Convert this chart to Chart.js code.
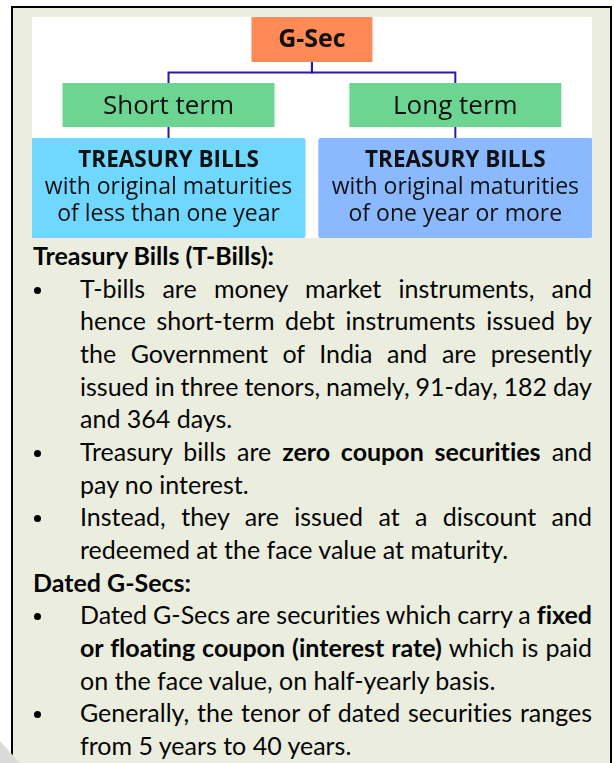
<!DOCTYPE html>
<html>
<head>
<meta charset="utf-8">
<title>G-Sec</title>
<script src="https://cdn.jsdelivr.net/npm/chart.js@4.4.1/dist/chart.umd.min.js"></script>
<style>
  html, body { margin: 0; padding: 0; background: #fff; overflow: hidden; }
  body { width: 614px; height: 763px; position: relative; }
  .frame {
    position: absolute; left: 11px; top: 6px; width: 601px; height: 800px;
    box-sizing: border-box; border: 2px solid #000; background: #EBEEDF;
  }
  .diagram {
    position: absolute; left: 32px; top: 17px; width: 560px; height: 221px; background: #fff;
  }
  .notes {
    position: absolute; left: 33px; top: 239px; width: 559px;
    font-family: Lato, "Noto Sans", sans-serif; font-size: 25px; color: #050505;
    line-height: 32.67px; font-variant-ligatures: none;
  }
  .hd { font-weight: bold; }
  .item { position: relative; padding-left: 47px; }
  .item::before {
    content: ''; position: absolute; left: 1px; top: 15px;
    width: 7px; height: 7px; border-radius: 50%; background: #000;
  }
  .ln { white-space: nowrap; }
  .shade {
    position: absolute; left: 0; top: 741px; width: 20px; height: 22px; background: #dadada;
    clip-path: polygon(0 0, 100% 100%, 0 100%);
  }
</style>
</head>
<body>
<div class="frame"></div>
<div class="shade"></div>
<div class="diagram"><canvas id="treeChart"></canvas></div>
<div class="notes">
  <div class="hd">Treasury Bills (T-Bills):</div>
  <div class="item">
    <div class="ln j">T-bills are money market instruments, and</div>
    <div class="ln j">hence short-term debt instruments issued by</div>
    <div class="ln j">the Government of India and are presently</div>
    <div class="ln j">issued in three tenors, namely, 91-day, 182 day</div>
    <div class="ln">and 364 days.</div>
  </div>
  <div class="item">
    <div class="ln j">Treasury bills are <b>zero coupon securities</b> and</div>
    <div class="ln">pay no interest.</div>
  </div>
  <div class="item">
    <div class="ln j">Instead, they are issued at a discount and</div>
    <div class="ln">redeemed at the face value at maturity.</div>
  </div>
  <div class="hd">Dated G-Secs:</div>
  <div class="item">
    <div class="ln j">Dated G-Secs are securities which carry a <b>fixed</b></div>
    <div class="ln j"><b>or floating coupon (interest rate)</b> which is paid</div>
    <div class="ln">on the face value, on half-yearly basis.</div>
  </div>
  <div class="item">
    <div class="ln j">Generally, the tenor of dated securities ranges</div>
    <div class="ln">from 5 years to 40 years.</div>
  </div>
</div>

<script>
// Tree nodes: label lines, parent index, level (row) and column
const nodeLabels = [
  ['G-Sec'],
  ['Short term'],
  ['Long term'],
  ['TREASURY BILLS', 'with original maturities', 'of less than one year'],
  ['TREASURY BILLS', 'with original maturities', 'of one year or more']
];
const nodeParents = [-1, 0, 0, 1, 2];
const nodeLevels = [0, 1, 1, 2, 2];
const nodeColumns = [1, 0, 2, 0, 2];

// Look of each row of boxes
const levelStyle = [
  { w: 121, h: 45, gap: 21, fonts: ['bold 25px "Open Sans"'], baselines: [29.5] },
  { w: 212, h: 44, gap: 11, fonts: ['26px "Open Sans"'], baselines: [30.5] },
  { w: 274, h: 100, gap: 0,
    fonts: ['bold 22.5px "Open Sans"', '23px "Open Sans"', '23px "Open Sans"'],
    baselines: [29, 56, 83] }
];
const nodeFills = ['#FF8A55', '#6BD591', '#6BD591', '#70D8FF', '#8BB9FF'];
const lineColor = '#2B1BA3';

// top of each row, stacked from heights and gaps
const levelTops = [];
let acc = 0;
levelStyle.forEach(s => { levelTops.push(acc); acc += s.h + s.gap; });

const treePlugin = {
  id: 'tree',
  afterDatasetsDraw(chart) {
    const ctx = chart.ctx;
    const pts = chart.getDatasetMeta(0).data;

    // connectors
    ctx.save();
    ctx.strokeStyle = lineColor;
    ctx.lineWidth = 2;
    nodeParents.forEach((p, i) => {
      if (p < 0) return;
      const parent = pts[p], child = pts[i];
      const pBottom = parent.y + levelStyle[nodeLevels[p]].h;
      const midY = (pBottom + child.y) / 2;
      ctx.beginPath();
      ctx.moveTo(parent.x, pBottom);
      ctx.lineTo(parent.x, midY);
      ctx.lineTo(child.x, midY);
      ctx.lineTo(child.x, child.y);
      ctx.stroke();
    });
    ctx.restore();

    // boxes and their text
    pts.forEach((pt, i) => {
      const s = levelStyle[nodeLevels[i]];
      ctx.save();
      ctx.fillStyle = nodeFills[i];
      ctx.beginPath();
      ctx.roundRect(pt.x - s.w / 2, pt.y, s.w, s.h, nodeLevels[i] === 2 ? 2 : 0);
      ctx.fill();
      ctx.fillStyle = '#111';
      ctx.textAlign = 'center';
      ctx.textBaseline = 'alphabetic';
      nodeLabels[i].forEach((line, k) => {
        ctx.font = s.fonts[k];
        ctx.fillText(line, pt.x, pt.y + s.baselines[k]);
      });
      ctx.restore();
    });
  }
};

new Chart(document.getElementById('treeChart'), {
  type: 'scatter',
  data: {
    datasets: [{
      data: nodeColumns.map((c, i) => ({ x: c, y: levelTops[nodeLevels[i]] })),
      pointRadius: 0,
      pointHoverRadius: 0
    }]
  },
  options: {
    responsive: true,
    maintainAspectRatio: false,
    animation: false,
    devicePixelRatio: 1,
    layout: { padding: 0 },
    events: [],
    plugins: { legend: { display: false }, tooltip: { enabled: false } },
    scales: {
      x: { type: 'linear', min: -0.952, max: 2.953, display: false },
      y: { type: 'linear', min: 0, max: 221, reverse: true, display: false }
    }
  },
  plugins: [treePlugin]
});

// justify the full lines by spreading (or squeezing) the word gaps
function justifyLines() {
  document.querySelectorAll('.ln.j').forEach(line => {
    line.style.wordSpacing = '0px';
    const span = document.createElement('span');
    while (line.firstChild) span.appendChild(line.firstChild);
    line.appendChild(span);
    const natural = span.getBoundingClientRect().width;
    const gaps = (line.textContent.match(/ /g) || []).length;
    const room = line.clientWidth - natural;
    if (gaps) line.style.wordSpacing = (room / gaps) + 'px';
  });
}
justifyLines();
</script>
</body>
</html>
